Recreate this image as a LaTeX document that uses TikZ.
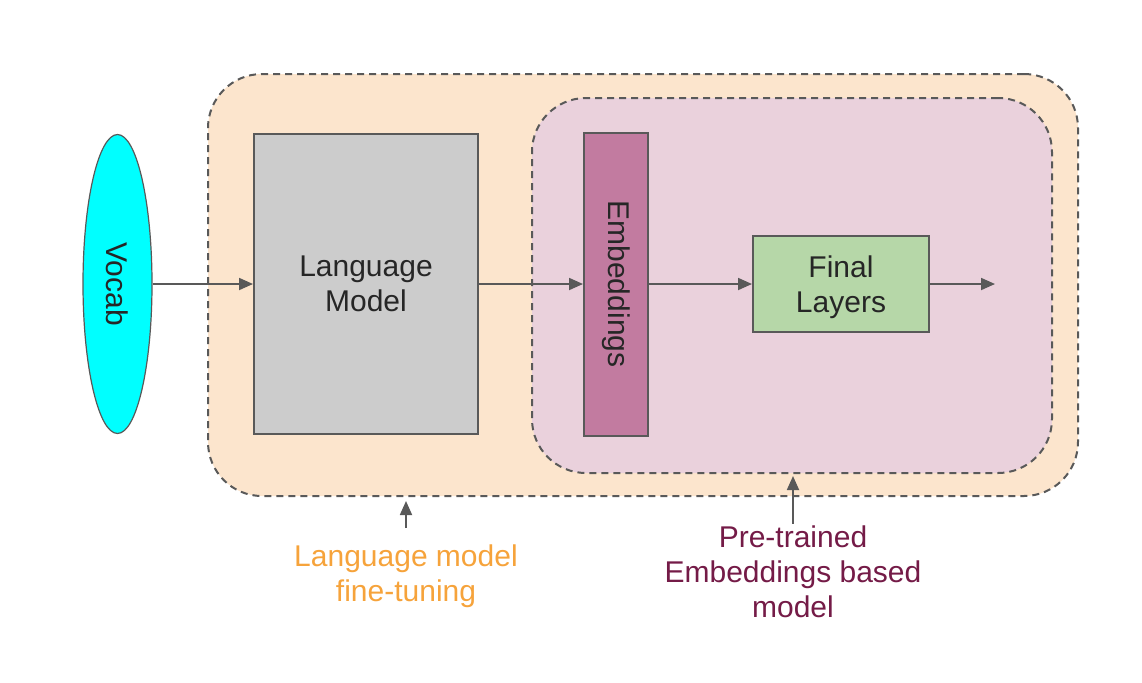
\documentclass[tikz,border=0pt]{standalone}
\usepackage{fontspec}
\setmainfont{Liberation Sans}
\usepackage{tikz}
\usetikzlibrary{shapes.geometric}
\usetikzlibrary{arrows.meta}
\definecolor{vocabcyan}{HTML}{00FFFF}
\definecolor{peach}{HTML}{FCE5CD}
\definecolor{lightplum}{HTML}{EAD1DC}
\definecolor{lmgray}{HTML}{CCCCCC}
\definecolor{embplum}{HTML}{C27BA0}
\definecolor{finalgreen}{HTML}{B6D7A8}
\definecolor{edgegray}{HTML}{595959}
\definecolor{tuneorange}{HTML}{F6A33B}
\definecolor{pretrainmaroon}{HTML}{741B47}

\begin{document}
\begin{tikzpicture}[x=0.5pt, y=-0.5pt,
  every node/.style={font=\fontsize{15}{17.5}\selectfont, text=black!85},
  box/.style={draw=edgegray, line width=1pt, inner sep=0pt},
  region/.style={draw=edgegray, dash pattern=on 3.5pt off 2.5pt, line width=1pt, rounded corners=27pt, inner sep=0pt},
  flow/.style={-{Triangle[length=7pt,width=6pt]}, draw=edgegray, line width=0.9pt},
  note/.style={align=center, inner sep=0pt}]
\useasboundingbox (0,0) rectangle (1142,682);
% the two dashed regions
\node[region, fill=peach, minimum width=435pt, minimum height=211pt] (tuning) at (643,285) {};
\node[region, fill=lightplum, minimum width=260pt, minimum height=187.5pt] (pretrained) at (792,285.5) {};
% blocks
\node[ellipse, draw=edgegray, line width=0.6pt, fill=vocabcyan, rotate=-90, minimum width=149.5pt, minimum height=34.5pt, inner sep=0pt] (vocab) at (117.5,284) {Vocab};
\node[box, fill=lmgray, minimum width=112pt, minimum height=150pt, align=center] (lm) at (366,284) {Language\\Model};
\node[box, fill=embplum, rotate=-90, minimum width=151.5pt, minimum height=32pt] (emb) at (616,284) {Embeddings};
\node[box, fill=finalgreen, minimum width=88pt, minimum height=48pt, align=center, text depth=0pt] (final) at (841,284) {Final\\Layers};
\coordinate (result) at (995,284);
\draw[flow] (vocab) -- (lm);
\draw[flow] (lm) -- (emb);
\draw[flow] (emb) -- (final);
\draw[flow] (final) -- (result);
% labels under the regions
\node[note, text=tuneorange] (lmtune) at (406,576) {Language model\\fine-tuning};
\node[note, text=pretrainmaroon] (pretrain) at (793,572) {Pre-trained\\Embeddings based\\model};
\draw[flow, shorten <=8pt, shorten >=2pt] (lmtune.north) -- (tuning.south -| lmtune.north);
\draw[flow, shorten <=1pt, shorten >=1pt] (pretrain.north) -- (pretrained.south -| pretrain.north);
\end{tikzpicture}
\end{document}
